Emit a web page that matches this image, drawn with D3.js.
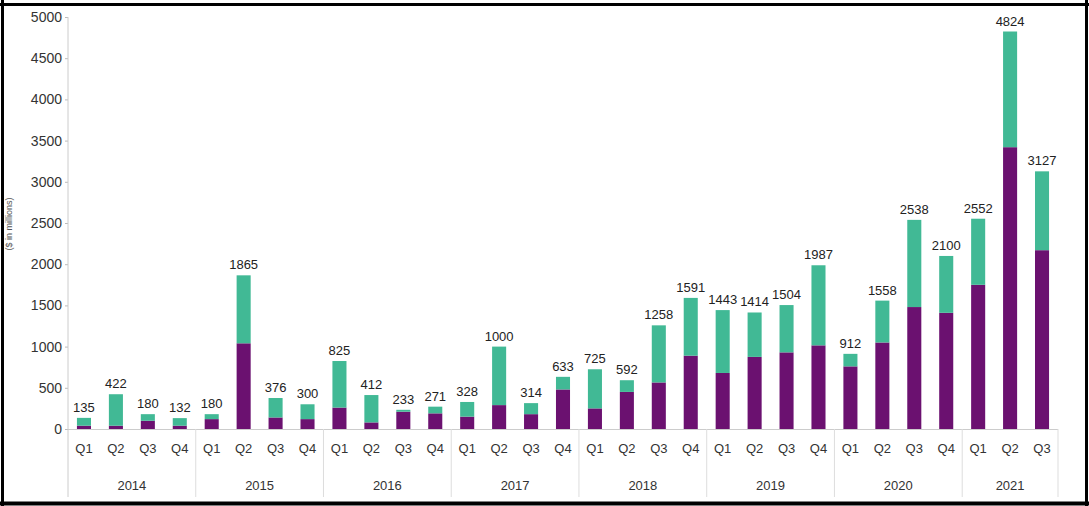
<!DOCTYPE html>
<html>
<head>
<meta charset="utf-8">
<script src="https://cdn.jsdelivr.net/npm/d3@7"></script>
<style>
  html, body { margin: 0; padding: 0; background: #fff; }
  svg { display: block; }
  text { font-family: "Liberation Sans", Arial, Helvetica, sans-serif; }
</style>
</head>
<body>
<svg id="chart" width="1089" height="506"></svg>
<script>
// ---- data ----
const years = ["2014","2015","2016","2017","2018","2019","2020","2021"];
const quartersPerYear = [4,4,4,4,4,4,4,3];
const quarterNames = ["Q1","Q2","Q3","Q4"];
const totals = [135,422,180,132, 180,1865,376,300, 825,412,233,271, 328,1000,314,633,
                725,592,1258,1591, 1443,1414,1504,1987, 912,1558,2538,2100, 2552,4824,3127];
const purpleValues = [40,40,100,40, 120,1040,140,120, 260,80,210,190, 150,290,180,480,
                      250,450,565,890, 680,875,930,1015, 760,1050,1480,1410, 1750,3420,2170];
const yTicks = [0,500,1000,1500,2000,2500,3000,3500,4000,4500,5000];
const yLabel = "($ in millions)";

// build rows
const rows = [];
years.forEach((yr, yi) => {
  for (let q = 0; q < quartersPerYear[yi]; q++) {
    const i = rows.length;
    rows.push({ id: yr + "-" + quarterNames[q], year: yr, quarter: quarterNames[q],
                purple: purpleValues[i], teal: totals[i] - purpleValues[i], total: totals[i] });
  }
});

const svg = d3.select("#chart");
const plotLeft = 68, plotRight = 1058, plotTop = 17, plotBase = 429;

const x = d3.scaleBand().domain(rows.map(d => d.id)).range([plotLeft, plotRight])
  .paddingInner(0.56).paddingOuter(0.28);
const y = d3.scaleLinear().domain([0, 5000]).range([plotBase, plotTop]);

const colors = { purple: "#6b1170", teal: "#41b995" };
const stack = d3.stack().keys(["purple", "teal"])(rows);

// bars
svg.append("g").selectAll("g").data(stack).join("g")
  .attr("fill", s => colors[s.key])
  .selectAll("rect").data(s => s).join("rect")
  .attr("x", d => x(d.data.id))
  .attr("width", x.bandwidth())
  .attr("y", d => y(d[1]))
  .attr("height", d => y(d[0]) - y(d[1]));

// value labels
svg.append("g").selectAll("text").data(rows).join("text")
  .attr("x", d => x(d.id) + x.bandwidth() / 2)
  .attr("y", d => y(d.total) - 6)
  .attr("text-anchor", "middle")
  .attr("font-size", 13)
  .attr("fill", "#222")
  .text(d => d.total);

// y axis
const yAxis = svg.append("g").attr("transform", `translate(${plotLeft},0)`)
  .call(d3.axisLeft(y).tickValues(yTicks).tickSize(3).tickPadding(3).tickFormat(d3.format("d")));
yAxis.select(".domain").remove();
yAxis.selectAll(".tick line").attr("stroke", "#bbb");
yAxis.selectAll(".tick text").attr("font-size", 14).attr("fill", "#333")
  .style("font-family", '"Liberation Sans", Arial, sans-serif');

// axis lines (y axis line extended down through category area)
svg.append("line").attr("x1", plotLeft).attr("x2", plotLeft).attr("y1", y(5000)).attr("y2", 497)
  .attr("stroke", "#ccc").attr("stroke-width", 1);
svg.append("line").attr("x1", plotLeft).attr("x2", plotRight).attr("y1", plotBase + 0.5).attr("y2", plotBase + 0.5)
  .attr("stroke", "#ccc").attr("stroke-width", 1);

// quarter axis
const qAxis = svg.append("g").attr("transform", `translate(0,${plotBase})`)
  .call(d3.axisBottom(x).tickSize(0).tickPadding(15).tickFormat(id => id.split("-")[1]));
qAxis.select(".domain").remove();
qAxis.selectAll(".tick text").attr("font-size", 13).attr("fill", "#333")
  .style("font-family", '"Liberation Sans", Arial, sans-serif');

// year groups
const step = x.step();
let idx = 0;
const groups = years.map((yr, yi) => {
  const firstId = rows[idx].id;
  const lastId = rows[idx + quartersPerYear[yi] - 1].id;
  idx += quartersPerYear[yi];
  const x0 = x(firstId) - x.paddingOuter() * step;
  const x1 = x(lastId) + x.bandwidth() + x.paddingOuter() * step;
  return { yr, x0, x1 };
});
const yearLayer = svg.append("g");
yearLayer.selectAll("line").data(groups).join("line")
  .attr("x1", d => d.x1).attr("x2", d => d.x1)
  .attr("y1", plotBase).attr("y2", 497)
  .attr("stroke", "#ddd").attr("stroke-width", 1);
yearLayer.selectAll("text").data(groups).join("text")
  .attr("x", d => (d.x0 + d.x1) / 2)
  .attr("y", 490)
  .attr("text-anchor", "middle")
  .attr("font-size", 13)
  .attr("fill", "#333")
  .text(d => d.yr);

// y label (partly hidden by frame)
svg.append("text")
  .attr("transform", "translate(12,224) rotate(-90)")
  .attr("text-anchor", "middle")
  .attr("font-size", 9)
  .attr("fill", "#555")
  .text(yLabel);

// frame
const frame = svg.append("g").attr("stroke", "#000");
frame.append("line").attr("x1", 0).attr("x2", 1089).attr("y1", 4.5).attr("y2", 4.5).attr("stroke-width", 3);
frame.append("line").attr("x1", 2.5).attr("x2", 2.5).attr("y1", 0).attr("y2", 506).attr("stroke-width", 3);
frame.append("line").attr("x1", 0).attr("x2", 1089).attr("y1", 503.5).attr("y2", 503.5).attr("stroke-width", 4);
frame.append("line").attr("x1", 1086.5).attr("x2", 1086.5).attr("y1", 0).attr("y2", 506).attr("stroke-width", 3);
</script>
</body>
</html>
